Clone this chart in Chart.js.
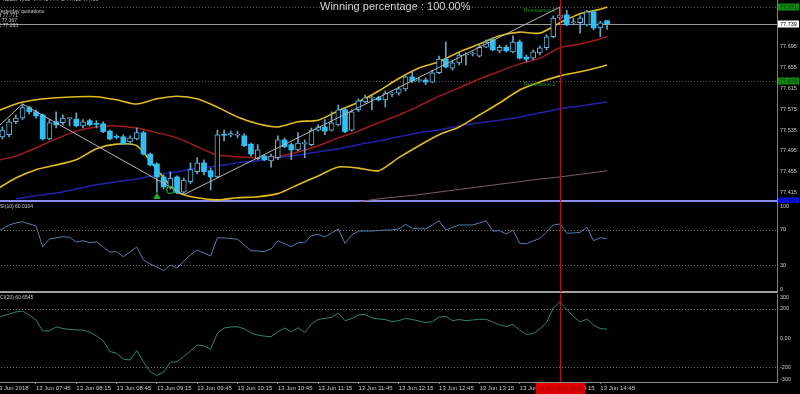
<!DOCTYPE html>
<html>
<head>
<meta charset="utf-8">
<script src="https://cdn.jsdelivr.net/npm/chart.js@4.4.1/dist/chart.umd.min.js"></script>
<style>
  html, body { margin: 0; width: 800px; height: 394px; overflow: hidden; background: #000; }
  body { position: relative; font-family: 'Liberation Sans', Arial, sans-serif; }
  .pane { position: absolute; left: -5px; width: 805px; }
  #pMain { top: 0; height: 203px; }
  #pRsi { top: 203px; height: 90px; }
  #pCci { top: 294px; height: 100px; }
  .txt { position: absolute; color: #c8c8c8; white-space: pre; line-height: 1; }
</style>
</head>
<body>
<div class="pane" id="pMain"><canvas id="mainChart"></canvas></div>
<div class="pane" id="pRsi"><canvas id="rsiChart"></canvas></div>
<div class="pane" id="pCci"><canvas id="cciChart"></canvas></div>

<div class="txt" style="left:320px;top:0.5px;font-size:11px;color:#d2d2d2">Winning percentage : 100.00%</div>
<div class="txt" style="left:3px;top:-3px;font-size:5px">NZDJPY,M5  77.745 77.745 77.728 77.739</div>
<div class="txt" style="left:-2.5px;top:8.5px;font-size:5px">Yesterday quotations:</div>
<div class="txt" style="left:-2.3px;top:13.2px;font-size:5px">H 77.771</div>
<div class="txt" style="left:-2.3px;top:17.8px;font-size:5px">L 77.167</div>
<div class="txt" style="left:-2.3px;top:23.2px;font-size:5px">C 77.263</div>
<div class="txt" style="left:-3.6px;top:203.5px;font-size:5px">RSI(10) 60.0104</div>
<div class="txt" style="left:-3.6px;top:295px;font-size:5px">CCI(20) 60.6545</div>

<script>
const FONT = "'Liberation Sans', Arial, sans-serif";

// M5 bars, bar 1 = 07:20 ... bar 91 = 14:50
const open = [77.522, 77.526, 77.551, 77.558, 77.578, 77.570, 77.564, 77.518, 77.551, 77.549,
  77.557, 77.556, 77.543, 77.553, 77.547, 77.547, 77.533, 77.522, 77.522, 77.512,
  77.518, 77.530, 77.489, 77.470, 77.445, 77.426, 77.445, 77.416, 77.436, 77.455,
  77.472, 77.457, 77.445, 77.526, 77.526, 77.525, 77.524, 77.508, 77.480, 77.485,
  77.476, 77.482, 77.516, 77.507, 77.497, 77.509, 77.507, 77.535, 77.541, 77.535,
  77.545, 77.574, 77.535, 77.574, 77.589, 77.596, 77.597, 77.593, 77.604, 77.606,
  77.614, 77.637, 77.630, 77.631, 77.627, 77.645, 77.671, 77.654, 77.664, 77.679,
  77.681, 77.677, 77.694, 77.708, 77.687, 77.694, 77.685, 77.704, 77.675, 77.673,
  77.683, 77.693, 77.714, 77.750, 77.756, 77.741, 77.741, 77.737, 77.762, 77.731, 77.745];
const high = [77.541, 77.556, 77.564, 77.585, 77.581, 77.574, 77.566, 77.555, 77.570, 77.564,
  77.559, 77.568, 77.555, 77.556, 77.553, 77.551, 77.535, 77.526, 77.526, 77.524,
  77.539, 77.533, 77.491, 77.472, 77.449, 77.455, 77.447, 77.443, 77.472, 77.482,
  77.478, 77.462, 77.535, 77.535, 77.533, 77.533, 77.528, 77.510, 77.507, 77.487,
  77.489, 77.524, 77.520, 77.510, 77.530, 77.516, 77.539, 77.545, 77.555, 77.570,
  77.583, 77.578, 77.574, 77.595, 77.602, 77.602, 77.600, 77.610, 77.608, 77.618,
  77.641, 77.647, 77.635, 77.635, 77.650, 77.677, 77.704, 77.668, 77.683, 77.683,
  77.685, 77.698, 77.708, 77.712, 77.698, 77.698, 77.716, 77.708, 77.679, 77.689,
  77.696, 77.718, 77.754, 77.771, 77.765, 77.750, 77.754, 77.765, 77.764, 77.744, 77.745];
const low = [77.518, 77.522, 77.547, 77.555, 77.566, 77.558, 77.516, 77.516, 77.539, 77.545,
  77.543, 77.541, 77.539, 77.543, 77.539, 77.530, 77.516, 77.518, 77.507, 77.507,
  77.516, 77.487, 77.466, 77.416, 77.422, 77.422, 77.413, 77.411, 77.432, 77.451,
  77.449, 77.420, 77.443, 77.514, 77.522, 77.520, 77.503, 77.485, 77.478, 77.476,
  77.464, 77.478, 77.501, 77.478, 77.495, 77.482, 77.505, 77.533, 77.526, 77.533,
  77.543, 77.530, 77.533, 77.570, 77.587, 77.574, 77.591, 77.579, 77.599, 77.602,
  77.610, 77.626, 77.627, 77.622, 77.626, 77.643, 77.654, 77.650, 77.660, 77.660,
  77.677, 77.675, 77.693, 77.687, 77.683, 77.685, 77.683, 77.671, 77.666, 77.670,
  77.679, 77.689, 77.712, 77.746, 77.735, 77.737, 77.721, 77.735, 77.727, 77.714, 77.728];
const close = [77.535, 77.551, 77.558, 77.578, 77.570, 77.562, 77.518, 77.549, 77.545, 77.558,
  77.558, 77.543, 77.551, 77.545, 77.546, 77.532, 77.518, 77.521, 77.508, 77.520,
  77.530, 77.489, 77.468, 77.445, 77.426, 77.443, 77.415, 77.439, 77.459, 77.472,
  77.455, 77.445, 77.526, 77.525, 77.528, 77.527, 77.505, 77.489, 77.497, 77.478,
  77.485, 77.516, 77.503, 77.497, 77.510, 77.510, 77.535, 77.541, 77.533, 77.549,
  77.574, 77.532, 77.570, 77.591, 77.597, 77.597, 77.593, 77.606, 77.605, 77.614,
  77.637, 77.629, 77.631, 77.627, 77.645, 77.671, 77.656, 77.664, 77.679, 77.680,
  77.682, 77.694, 77.704, 77.689, 77.694, 77.687, 77.704, 77.673, 77.671, 77.685,
  77.693, 77.714, 77.750, 77.756, 77.737, 77.742, 77.750, 77.762, 77.731, 77.741, 77.739];

// bands and moving averages, read at these bar positions
const lineIdx = [0, 3, 6, 9, 12, 15, 18, 21, 24, 27, 30, 33, 36, 39, 42, 45,
  48, 51, 54, 57, 60, 63, 66, 69, 72, 75, 78, 81, 84, 87, 90, 91];
const bbUpper = [77.570, 77.585, 77.593, 77.597, 77.599, 77.599, 77.593, 77.585, 77.595, 77.600, 77.595,
  77.579, 77.560, 77.547, 77.541, 77.551, 77.554, 77.572, 77.589, 77.610, 77.634, 77.654,
  77.666, 77.685, 77.700, 77.716, 77.723, 77.721, 77.741, 77.758, 77.767, 77.771];
const bbMid = [77.476, 77.485, 77.501, 77.518, 77.533, 77.541, 77.543, 77.539, 77.530, 77.520, 77.503,
  77.487, 77.484, 77.482, 77.484, 77.493, 77.505, 77.520, 77.533, 77.549, 77.564, 77.581,
  77.600, 77.616, 77.633, 77.648, 77.662, 77.673, 77.693, 77.700, 77.710, 77.714];
const bbLower = [77.420, 77.443, 77.459, 77.468, 77.478, 77.499, 77.508, 77.505, 77.459, 77.416, 77.405,
  77.401, 77.405, 77.407, 77.413, 77.430, 77.447, 77.464, 77.462, 77.457, 77.482, 77.505,
  77.526, 77.541, 77.564, 77.587, 77.612, 77.627, 77.639, 77.647, 77.656, 77.660];
const maBlue = [null, 77.403, 77.409, 77.414, 77.422, 77.430, 77.436, 77.441, 77.449, 77.455, 77.462,
  77.466, 77.472, 77.476, 77.482, 77.487, 77.493, 77.499, 77.507, 77.514, 77.522, 77.530,
  77.535, 77.543, 77.549, 77.554, 77.560, 77.568, 77.576, 77.581, 77.587, 77.589];
const maSlow = [null, null, null, null, null, null, null, null, null, null, null,
  null, null, null, null, null, null, null, 77.397, 77.403, 77.407, 77.411,
  77.416, 77.421, 77.426, 77.431, 77.436, 77.441, 77.445, 77.450, 77.455, 77.457];

const zigIdx = [0, 4, 28, 84];
const zigVal = [77.537, 77.585, 77.411, 77.771];

// indicator values, bar 0 (07:15) ... bar 91
const rsi = [67.4, 70.8, 75.3, 77.5, 79.0, 76.4, 74.2, 50.9, 59.6, 60.7,
  62.1, 61.5, 56.2, 57.6, 55.4, 56.2, 50.6, 44.9, 45.3, 39.7,
  44.9, 50.6, 36.0, 31.5, 28.1, 23.9, 30.3, 27.0, 34.8, 41.6,
  47.2, 43.8, 40.4, 61.0, 60.7, 60.1, 59.2, 52.8, 46.4, 46.1,
  45.3, 48.3, 57.6, 54.3, 50.9, 55.4, 55.4, 63.3, 64.8, 61.8,
  66.3, 70.8, 54.7, 64.0, 68.5, 68.5, 68.5, 69.1, 69.7, 69.7,
  70.8, 76.1, 71.6, 71.1, 70.8, 75.3, 80.1, 69.7, 72.5, 75.3,
  75.3, 75.3, 77.5, 80.1, 68.5, 68.9, 65.2, 69.7, 54.7, 54.3,
  57.3, 60.3, 67.4, 75.3, 76.4, 66.0, 66.3, 67.1, 72.7, 57.6,
  61.0, 60.0104];
const cci = [136.3, 150.0, 163.6, 177.2, 184.1, 156.8, 122.7, 47.7, 49.8, 75.0,
  64.8, 57.9, 54.5, 54.5, 40.9, 13.6, -17.0, -92.0, -104.3, -143.2,
  -150.0, -85.2, -163.6, -229.7, -255.6, -231.8, -165.7, -161.6, -126.1, -88.6,
  -47.7, -53.2, -77.0, 32.0, 68.2, 75.0, 77.0, 62.7, 34.1, 20.5,
  12.3, 8.9, 40.9, 68.2, 42.3, 69.5, 37.5, 95.4, 126.1, 134.3,
  139.7, 170.4, 117.9, 132.9, 156.8, 161.6, 136.3, 129.5, 126.1, 111.8,
  117.9, 134.3, 126.1, 115.9, 105.0, 111.1, 143.2, 146.6, 117.9, 126.1,
  118.6, 122.7, 127.5, 127.5, 109.1, 88.6, 77.7, 92.7, 54.5, 23.9,
  30.7, 61.4, 105.7, 204.5, 245.4, 194.3, 146.6, 109.1, 129.5, 88.6,
  64.1, 60.6545];

const timeIdx = [0, 6, 12, 18, 24, 30, 36, 42, 48, 54, 60, 66, 72, 78, 84, 90];
const timeLabels = ['13 Jun 2018', '13 Jun 07:45', '13 Jun 08:15', '13 Jun 08:45', '13 Jun 09:15',
  '13 Jun 09:45', '13 Jun 10:15', '13 Jun 10:45', '13 Jun 11:15', '13 Jun 11:45', '13 Jun 12:15',
  '13 Jun 12:45', '13 Jun 13:15', '13 Jun 13:45', '13 Jun 14:15', '13 Jun 14:45'];
const priceTicks = [77.415, 77.455, 77.495, 77.535, 77.575, 77.615, 77.655, 77.695];
const rsiTicks = [100, 70, 30, 0];
const rsiLevels = [70, 30];
const cciTicks = [300, 200, 0, -200, -300];
const cciLevels = [200, -200];

const resistance2 = 77.771;
const resistance1 = 77.629;
const bidPrice = 77.739;
const blueLevel = 77.398;
const crossBar = 84;
const crossTime = '13 Jun 2018 14:15';
const arrowBar = 24, arrowPrice = 77.407;
const ringBar = 26, ringPrice = 77.420;

Chart.defaults.font.family = FONT;
Chart.defaults.animation = false;
Chart.defaults.events = [];
Chart.defaults.plugins.legend.display = false;
Chart.defaults.plugins.tooltip.enabled = false;

// draws level lines, axis tags, captions and the crosshair
const overlay = {
  id: 'overlay',
  beforeDatasetsDraw(chart, args, o) {
    const { ctx, chartArea: a } = chart;
    const y = chart.scales.y;
    ctx.save();
    ctx.beginPath();
    ctx.rect(a.left, a.top, a.right - a.left, a.bottom - a.top);
    ctx.clip();
    for (const l of o.lines || []) {
      const w = l.width || 1;
      const py = Math.round(y.getPixelForValue(l.value)) + (w % 2 ? 0.5 : 0);
      ctx.strokeStyle = l.color;
      ctx.lineWidth = w;
      ctx.setLineDash(l.dash || []);
      ctx.beginPath();
      ctx.moveTo(a.left, py);
      ctx.lineTo(a.right, py);
      ctx.stroke();
    }
    ctx.restore();
  },
  afterDraw(chart, args, o) {
    const { ctx, chartArea: a } = chart;
    const x = chart.scales.x, y = chart.scales.y;
    ctx.save();
    ctx.font = '5.5px ' + FONT;
    ctx.textAlign = 'left';
    ctx.textBaseline = 'middle';
    for (const t of o.axis || []) {
      const py = Math.min(Math.max(y.getPixelForValue(t.value), a.top + 3), a.bottom - 3);
      ctx.fillStyle = '#c8c8c8';
      ctx.fillText(t.text, a.right + 3, py);
    }
    for (const t of o.tags || []) {
      const py = Math.round(y.getPixelForValue(t.value));
      ctx.fillStyle = t.bg;
      ctx.fillRect(a.right + 1, py - 3.5, 21, 7);
      ctx.fillStyle = t.fg;
      ctx.fillText(t.value.toFixed(3), a.right + 3, py + 0.5);
    }
    ctx.textBaseline = 'top';
    for (const n of o.notes || []) {
      ctx.fillStyle = n.color;
      ctx.fillText(n.text, x.getPixelForValue(n.at), y.getPixelForValue(n.value) + 1);
    }
    if (o.cross != null) {
      const px = Math.round(x.getPixelForValue(o.cross)) + 0.5;
      ctx.strokeStyle = '#b01414';
      ctx.lineWidth = 1;
      ctx.beginPath();
      ctx.moveTo(px, a.top);
      ctx.lineTo(px, a.bottom);
      ctx.stroke();
      if (o.crossText) {
        ctx.font = '5.5px ' + FONT;
        const w = ctx.measureText(o.crossText).width + 4;
        ctx.fillStyle = '#e00000';
        ctx.fillRect(px - w / 2, a.bottom + 1, w, chart.height - a.bottom - 1);
        ctx.fillStyle = '#7a0000';
        ctx.textAlign = 'center';
        ctx.textBaseline = 'middle';
        ctx.fillText(o.crossText, px, (a.bottom + chart.height) / 2 + 1);
      }
    }
    ctx.restore();
  }
};

function xAxis(showLabels, height, border) {
  return {
    type: 'linear',
    min: -0.1,
    max: 116.3,
    offset: false,
    display: border !== null,
    grid: { display: showLabels, offset: false, drawOnChartArea: false, drawTicks: true, tickLength: 2, color: '#808080' },
    border: border || { display: false },
    ticks: {
      display: showLabels, autoSkip: false, maxRotation: 0, minRotation: 0, align: 'start', padding: 1,
      color: '#c8c8c8', font: { size: 6 },
      callback: (v, k) => timeLabels[k]
    },
    afterBuildTicks: s => { s.ticks = timeIdx.map(v => ({ value: v })); },
    afterFit: s => { s.height = height; s.paddingLeft = 0; s.paddingRight = 0; }
  };
}

function yAxis(extra) {
  return Object.assign({
    position: 'right',
    grid: { display: false, drawTicks: false },
    border: { display: true, color: '#808080', width: 1 },
    ticks: { display: false },
    afterFit: s => { s.width = 23; s.paddingTop = 0; s.paddingBottom = 0; }
  }, extra);
}

const pts = (idx, vals) => idx.map((i, k) => ({ x: i, y: vals[k] })).filter(p => p.y !== null);
const series = vals => vals.map((v, k) => ({ x: k, y: v }));

// candle bodies and wicks as floating bars
const upBodies = [], downBodies = [], wicks = [];
open.forEach((o, k) => {
  const body = { x: k + 1, y: [o, close[k]] };
  (close[k] >= o ? upBodies : downBodies).push(body);
  wicks.push({ x: k + 1, y: [low[k], high[k]] });
});

const bandLine = (data, color, width, order) => ({
  type: 'line', data, borderColor: color, borderWidth: width, pointRadius: 0, tension: 0.25, order
});

const baseOptions = {
  responsive: true,
  maintainAspectRatio: false,
  devicePixelRatio: 1,
  layout: { padding: 0, autoPadding: false }
};

new Chart(document.getElementById('mainChart'), {
  type: 'bar',
  data: {
    datasets: [
      bandLine(pts(lineIdx, maSlow), '#7d6060', 1, 12),
      bandLine(pts(lineIdx, maBlue), '#2222a8', 1.5, 11),
      bandLine(pts(lineIdx, bbMid), '#a01c1c', 1.5, 10),
      bandLine(pts(lineIdx, bbUpper), '#e0bc20', 1.6, 9),
      bandLine(pts(lineIdx, bbLower), '#e0bc20', 1.6, 9),
      { type: 'bar', data: wicks, grouped: false, barThickness: 1, backgroundColor: '#6aa6bf', order: 5 },
      { type: 'bar', data: upBodies, grouped: false, barThickness: 5, minBarLength: 1,
        backgroundColor: '#000000', borderColor: '#5fb8e0', borderWidth: 1, borderSkipped: false, order: 4 },
      { type: 'bar', data: downBodies, grouped: false, barThickness: 5, minBarLength: 1,
        backgroundColor: '#2ec0f5', order: 3 },
      { type: 'line', data: pts(zigIdx, zigVal), borderColor: '#b4b4b4', borderWidth: 1, pointRadius: 0, tension: 0, order: 2 },
      { type: 'line', data: [{ x: arrowBar, y: arrowPrice }], showLine: false, pointStyle: 'triangle',
        pointRadius: 3.5, backgroundColor: '#22aa22', borderColor: '#22aa22', order: 1 },
      { type: 'line', data: [{ x: ringBar, y: ringPrice }], showLine: false, pointStyle: 'circle',
        pointRadius: 3.5, backgroundColor: 'rgba(0,0,0,0)', borderColor: '#22aa22', borderWidth: 1.2, order: 1 }
    ]
  },
  options: {
    ...baseOptions,
    scales: {
      x: xAxis(false, 0, null),
      y: yAxis({
        min: 77.395, max: 77.7846,
        afterBuildTicks: s => { s.ticks = priceTicks.map(v => ({ value: v })); },
        ticks: { display: true, color: '#c8c8c8', padding: 3, font: { size: 5.5 }, callback: v => v.toFixed(3) }
      })
    },
    plugins: {
      overlay: {
        lines: [
          { value: resistance2, color: '#5a5a5a', dash: [1, 2] },
          { value: resistance1, color: '#5a5a5a', dash: [1, 2] },
          { value: bidPrice, color: '#9a9a9a' },
          { value: blueLevel, color: '#8c8cf0', width: 2 }
        ],
        tags: [
          { value: resistance2, bg: '#118811', fg: '#003300' },
          { value: bidPrice, bg: '#ffffff', fg: '#000000' },
          { value: resistance1, bg: '#118811', fg: '#003300' },
          { value: blueLevel, bg: '#0a10e0', fg: '#00008a' }
        ],
        notes: [
          { text: 'Resistance 2', at: 78.6, value: resistance2, color: '#1e8c1e' },
          { text: 'Resistance 1', at: 78.6, value: resistance1, color: '#1e8c1e' }
        ],
        cross: crossBar
      }
    }
  },
  plugins: [overlay]
});

new Chart(document.getElementById('rsiChart'), {
  type: 'line',
  data: { datasets: [{ data: series(rsi), borderColor: '#4f7fb0', borderWidth: 1, pointRadius: 0, tension: 0 }] },
  options: {
    ...baseOptions,
    scales: {
      x: xAxis(false, 1, { display: true, color: '#a0a0a0', width: 2 }),
      y: yAxis({ min: 0, max: 100 })
    },
    plugins: {
      overlay: {
        lines: rsiLevels.map(v => ({ value: v, color: '#707070', dash: [1, 2] })),
        axis: rsiTicks.map(v => ({ value: v, text: String(v) })),
        cross: crossBar
      }
    }
  },
  plugins: [overlay]
});

new Chart(document.getElementById('cciChart'), {
  type: 'line',
  data: { datasets: [{ data: series(cci), borderColor: '#2f8573', borderWidth: 1, pointRadius: 0, tension: 0 }] },
  options: {
    ...baseOptions,
    scales: {
      x: xAxis(true, 12, { display: true, color: '#909090', width: 1 }),
      y: yAxis({ min: -300, max: 300 })
    },
    plugins: {
      overlay: {
        lines: cciLevels.map(v => ({ value: v, color: '#707070', dash: [1, 2] })),
        axis: cciTicks.map(v => ({ value: v, text: v === 0 ? '0.00' : String(v) })),
        cross: crossBar,
        crossText: crossTime
      }
    }
  },
  plugins: [overlay]
});
</script>
</body>
</html>
